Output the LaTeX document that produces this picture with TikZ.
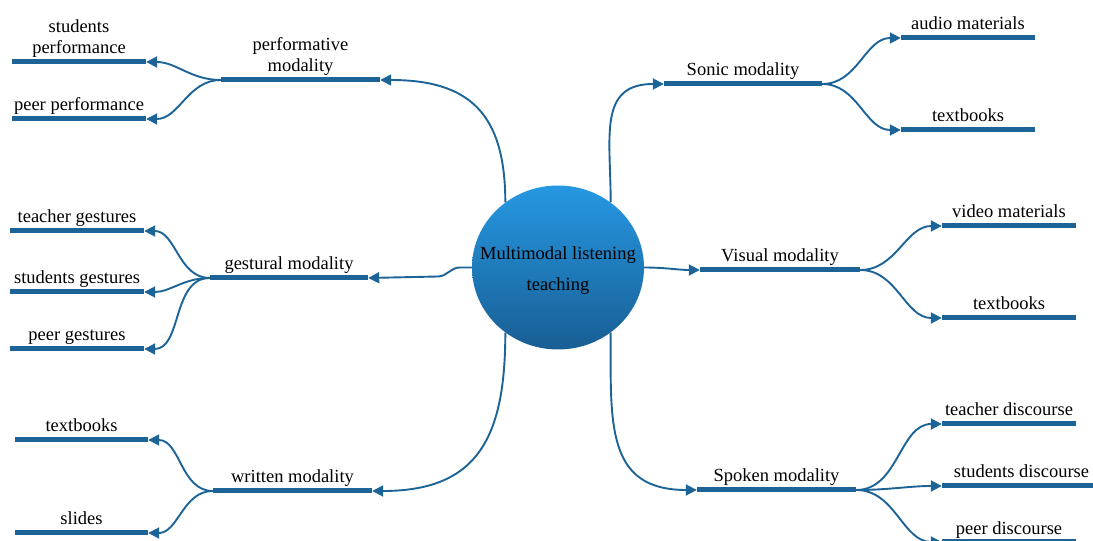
\documentclass[tikz,border=0pt]{standalone}
\usepackage{fontspec}
\setmainfont{Liberation Serif}
\usetikzlibrary{arrows.meta,calc,shapes.geometric}
\definecolor{barblue}{RGB}{28,99,152}
\definecolor{toplight}{RGB}{38,152,226}
\definecolor{botdark}{RGB}{24,94,148}
\begin{document}
\begin{tikzpicture}[x=1pt,y=1pt,
  bar/.style={rectangle,fill=barblue,inner sep=0pt,minimum height=5pt},
  lbl/.style={anchor=south,inner sep=0pt,text depth=0pt,align=center,font=\rmfamily\fontsize{18.5}{21}\selectfont},
  conn/.style={draw=barblue,line width=1.9pt,-{Triangle[length=11pt,width=11pt]}},
  hub/.style={ellipse,minimum width=172pt,minimum height=164pt,inner sep=0pt,top color=toplight,bottom color=botdark,draw=none}
]
\useasboundingbox (0,0) rectangle (1093,541);
% centre
\node[hub] (c) at (558,273.5) {};
\node[align=center,font=\rmfamily\fontsize{18.5}{31}\selectfont,inner sep=0pt] (ct) at (558,270) {Multimodal listening\\teaching};
% bars
\node[bar,minimum width=159pt] (perf) at (300.5,461) {};
\node[bar,minimum width=134pt] (stperf) at (79,479) {};
\node[bar,minimum width=134pt] (peerperf) at (79,422) {};
\node[bar,minimum width=158pt] (gest) at (289,263) {};
\node[bar,minimum width=134pt] (tg) at (77,310) {};
\node[bar,minimum width=134pt] (sg) at (77,249) {};
\node[bar,minimum width=134pt] (pg) at (77,192) {};
\node[bar,minimum width=159pt] (writ) at (292.5,50) {};
\node[bar,minimum width=133pt] (tbA) at (81.5,101) {};
\node[bar,minimum width=133pt] (sl) at (81.5,8) {};
\node[bar,minimum width=158pt] (son) at (743,457) {};
\node[bar,minimum width=134pt] (aud) at (968,503) {};
\node[bar,minimum width=134pt] (tbB) at (968,411) {};
\node[bar,minimum width=160pt] (vis) at (780,271) {};
\node[bar,minimum width=134pt] (vid) at (1009,315) {};
\node[bar,minimum width=134pt] (tbC) at (1009,223) {};
\node[bar,minimum width=159pt] (spk) at (776.5,51) {};
\node[bar,minimum width=134pt] (td) at (1009,117) {};
\node[bar,minimum width=151pt] (sd) at (1017.5,55) {};
\node[bar,minimum width=134pt] (pd) at (1009,-1) {};
% labels
\node[lbl] (lperf) at ([yshift=8pt]perf.center) {performative\\modality};
\node[lbl] (lstperf) at ([yshift=8pt]stperf.center) {students\\performance};
\node[lbl] (lpeerperf) at ([yshift=8pt]peerperf.center) {peer performance};
\node[lbl] (lgest) at ([yshift=8pt]gest.center) {gestural modality};
\node[lbl] (ltg) at ([yshift=8pt]tg.center) {teacher gestures};
\node[lbl] (lsg) at ([yshift=8pt]sg.center) {students gestures};
\node[lbl] (lpg) at ([yshift=8pt]pg.center) {peer gestures};
\node[lbl] (lwrit) at ([yshift=8pt]writ.center) {written modality};
\node[lbl] (ltbA) at ([yshift=8pt]tbA.center) {textbooks};
\node[lbl] (lsl) at ([yshift=8pt]sl.center) {slides};
\node[lbl] (lson) at ([yshift=8pt]son.center) {Sonic modality};
\node[lbl] (laud) at ([yshift=8pt]aud.center) {audio materials};
\node[lbl] (ltbB) at ([yshift=8pt]tbB.center) {textbooks};
\node[lbl] (lvis) at ([yshift=8pt]vis.center) {Visual modality};
\node[lbl] (lvid) at ([yshift=8pt]vid.center) {video materials};
\node[lbl] (ltbC) at ([yshift=8pt]tbC.center) {textbooks};
\node[lbl] (lspk) at ([yshift=8pt]spk.center) {Spoken modality};
\node[lbl] (ltd) at ([yshift=8pt]td.center) {teacher discourse};
\node[lbl] (lsd) at ([xshift=4pt,yshift=8pt]sd.center) {students discourse};
\node[lbl] (lpd) at ([yshift=7pt]pd.center) {peer discourse};
% connectors from centre
\draw[conn] (c.129) to[out=90,in=0,looseness=1.3] (perf.east);
\draw[conn] (c.west) -- ++(-12,0) to[out=180,in=0] ++(-22,-9) -- (gest.east);
\draw[conn] (c.231) to[out=-90,in=0,looseness=1.3] (writ.east);
\draw[conn] (c.51) to[out=90,in=180,looseness=1.3] (son.west);
\draw[conn] (c.east) to[out=0,in=180] (vis.west);
\draw[conn] (c.309) to[out=-90,in=180,looseness=1.3] (spk.west);
% connectors to leaves
\draw[conn] (perf.west) to[out=180,in=0] (stperf.east);
\draw[conn] (perf.west) to[out=180,in=0] (peerperf.east);
\draw[conn] (gest.west) to[out=180,in=0] (tg.east);
\draw[conn] (gest.west) to[out=180,in=0] (sg.east);
\draw[conn] (gest.west) to[out=180,in=0] (pg.east);
\draw[conn] (writ.west) to[out=180,in=0] (tbA.east);
\draw[conn] (writ.west) to[out=180,in=0] (sl.east);
\draw[conn] (son.east) to[out=0,in=180] (aud.west);
\draw[conn] (son.east) to[out=0,in=180] (tbB.west);
\draw[conn] (vis.east) to[out=0,in=180] (vid.west);
\draw[conn] (vis.east) to[out=0,in=180] (tbC.west);
\draw[conn] (spk.east) to[out=0,in=180] (td.west);
\draw[conn] (spk.east) to[out=0,in=180] (sd.west);
\draw[conn] (spk.east) to[out=0,in=180] (pd.west);
\end{tikzpicture}
\end{document}
